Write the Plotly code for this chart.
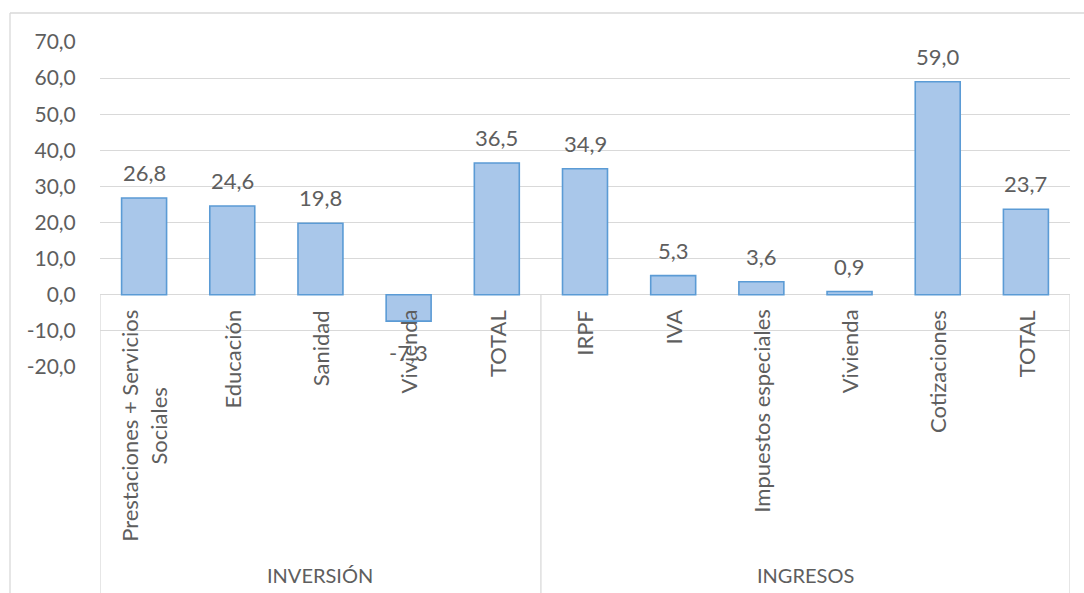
import plotly.graph_objects as go

categories = ["Prestaciones + Servicios<br>Sociales", "Educación", "Sanidad", "Vivienda", "TOTAL",
              "IRPF", "IVA", "Impuestos especiales", "Vivienda", "Cotizaciones", "TOTAL"]
values = [26.8, 24.6, 19.8, -7.3, 36.5, 34.9, 5.3, 3.6, 0.9, 59.0, 23.7]
groups = ["INVERSIÓN", "INGRESOS"]
group_sizes = [5, 6]
y_ticks = [-20, -10, 0, 10, 20, 30, 40, 50, 60, 70]
y_tick_text = ["-20,0", "-10,0", "0,0", "10,0", "20,0", "30,0", "40,0", "50,0", "60,0", "70,0"]

FONT = "Lato"
GREY = "#5E5E5E"
GRID = "#D9D9D9"

Y0, Y1 = -20, 70
W, H = 1084, 593
ML, MR, MT, MB = 100, 14, 42, 226
pw = W - ML - MR
ph = H - MT - MB

def px_to_paper_x(px):
    return (px - ML) / pw

def px_to_paper_y(py):
    return (H - MB - py) / ph

xs = list(range(len(values)))

fig = go.Figure()
fig.add_trace(go.Bar(
    x=xs, y=values, width=0.51,
    marker=dict(color="#A9C7EA", line=dict(color="#5B9BD5", width=1.6)),
    hoverinfo="skip",
))

annotations = []
# data labels
for x, v in zip(xs, values):
    txt = f"{v:.1f}".replace(".", ",")
    if v >= 0:
        annotations.append(dict(x=x, y=v, xref="x", yref="y", text=txt, showarrow=False,
                                yanchor="bottom", yshift=10,
                                font=dict(family=FONT, size=22, color=GREY)))
    else:
        annotations.append(dict(x=x, y=v, xref="x", yref="y", text=txt, showarrow=False,
                                yanchor="top", yshift=-16,
                                font=dict(family=FONT, size=22, color=GREY)))

# category labels (rotated)
for x, c in zip(xs, categories):
    annotations.append(dict(x=x, y=0, xref="x", yref="y", text=c, showarrow=False,
                            textangle=-90, yanchor="top", xanchor="center", yshift=-13,
                            align="center",
                            font=dict(family=FONT, size=22, color=GREY)))

# group labels
start = 0
zero_paper = (0 - Y0) / (Y1 - Y0)
bottom_paper = px_to_paper_y(H)
shapes = []
boundaries = [-0.5]
for g, n in zip(groups, group_sizes):
    center = start + (n - 1) / 2
    annotations.append(dict(x=center, y=px_to_paper_y(575), xref="x", yref="paper", text=g,
                            showarrow=False, yanchor="middle",
                            font=dict(family=FONT, size=20, color=GREY)))
    start += n
    boundaries.append(start - 0.5)

for b in boundaries:
    shapes.append(dict(type="line", xref="x", yref="paper", x0=b, x1=b,
                       y0=zero_paper, y1=bottom_paper, line=dict(color=GRID, width=1.3)))

# outer chart frame (left and top edges)
shapes.append(dict(type="line", xref="paper", yref="paper",
                   x0=px_to_paper_x(10), x1=px_to_paper_x(W + 5),
                   y0=px_to_paper_y(13), y1=px_to_paper_y(13), line=dict(color=GRID, width=1.3)))
shapes.append(dict(type="line", xref="paper", yref="paper",
                   x0=px_to_paper_x(10), x1=px_to_paper_x(10),
                   y0=px_to_paper_y(13), y1=px_to_paper_y(H + 5), line=dict(color=GRID, width=1.3)))

fig.update_layout(
    width=W, height=H,
    margin=dict(l=ML, r=MR, t=MT, b=MB, pad=0),
    plot_bgcolor="white", paper_bgcolor="white",
    showlegend=False,
    annotations=annotations,
    shapes=shapes,
    font=dict(family=FONT, size=21, color=GREY),
)
fig.update_xaxes(range=[-0.5, len(values) - 0.5], showticklabels=False, showgrid=False,
                 zeroline=False, showline=False, ticks="")
fig.update_yaxes(range=[Y0, Y1], tickvals=y_ticks, ticktext=y_tick_text, showgrid=True,
                 gridcolor=GRID, gridwidth=1.3, zeroline=True, zerolinecolor=GRID, zerolinewidth=1.3,
                 showline=False, ticks="outside", ticklen=19, tickcolor="rgba(0,0,0,0)",
                 tickfont=dict(family=FONT, size=21, color=GREY))

fig.write_html("out.html", config={"displayModeBar": False},
               post_script="document.body.style.margin='0';document.body.style.overflow='hidden';")
